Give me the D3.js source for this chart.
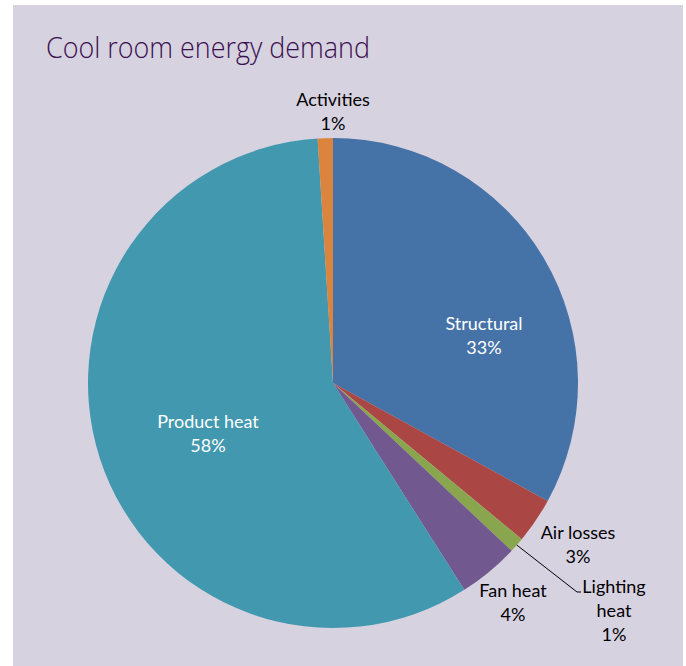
<!DOCTYPE html>
<html>
<head>
<meta charset="utf-8">
<script src="https://cdn.jsdelivr.net/npm/d3@7"></script>
<style>
  html, body { margin: 0; padding: 0; background: #ffffff; }
  svg { display: block; }
</style>
</head>
<body>
<svg id="chart" width="686" height="666"></svg>
<script>
// Cool room energy demand, share by source (%)
const categories = ["Structural", "Air losses", "Lighting heat", "Fan heat", "Product heat", "Activities"];
const shares = [33, 3, 1, 4, 58, 1];
const colors = ["#4572a7", "#aa4643", "#89a54e", "#71588f", "#4198af", "#db843d"];
const labelLines = [["Structural"], ["Air losses"], ["Lighting", "heat"], ["Fan heat"], ["Product heat"], ["Activities"]];

const svg = d3.select("#chart");
const W = 686, H = 666;

// panel background
svg.append("rect")
  .attr("x", 13).attr("y", 5)
  .attr("width", 670).attr("height", H - 5)
  .attr("fill", "#d7d2e0");

svg.append("text")
  .attr("x", 46).attr("y", 58)
  .attr("font-family", "'Open Sans', sans-serif")
  .attr("font-weight", 300)
  .attr("font-size", 29)
  .attr("textLength", 324)
  .attr("lengthAdjust", "spacingAndGlyphs")
  .attr("fill", "#3a1050")
  .text("Cool room energy demand");

const cx = 333, cy = 383, R = 245;

const pie = d3.pie().sort(null).value(d => d.v);
const data = categories.map((c, i) => ({ c, v: shares[i], color: colors[i], lines: labelLines[i] }));
const arcs = pie(data);
const arc = d3.arc().innerRadius(0).outerRadius(R);

const g = svg.append("g").attr("transform", `translate(${cx},${cy})`);
g.selectAll("path.slice")
  .data(arcs)
  .join("path")
  .attr("class", "slice")
  .attr("d", arc)
  .attr("fill", d => d.data.color);

// label anchor (centre x, first baseline) relative to the pie centre
const placement = {
  "Structural":    { dx: 151,  dy: -53,  inside: true },
  "Product heat":  { dx: -125, dy: 45,   inside: true },
  "Air losses":    { dx: 245,  dy: 156,  inside: false },
  "Fan heat":      { dx: 180,  dy: 214,  inside: false },
  "Lighting heat": { dx: 281,  dy: 210,  inside: false },
  "Activities":    { dx: 0,    dy: -277, inside: false }
};

const lineH = 24;
arcs.forEach(a => {
  const p = placement[a.data.c];
  const lines = a.data.lines.concat([a.data.v + "%"]);
  const t = g.append("text")
    .attr("text-anchor", "middle")
    .attr("font-family", "Lato, 'Open Sans', sans-serif")
    .attr("font-size", 18)
    .attr("fill", p.inside ? "#ffffff" : "#000000");
  lines.forEach((s, i) => {
    t.append("tspan").attr("x", p.dx).attr("y", p.dy + i * lineH).text(s);
  });
});

// leader line for the small lighting slice
const light = arcs.find(a => a.data.c === "Lighting heat");
const mid = (light.startAngle + light.endAngle) / 2;
const rim = [Math.sin(mid) * R, -Math.cos(mid) * R];
const lp = placement["Lighting heat"];
const elbow = [lp.dx - 37, lp.dy - 1];
g.append("path")
  .attr("d", d3.line()([rim, elbow, [elbow[0] + 4, elbow[1]]]))
  .attr("fill", "none")
  .attr("stroke", "#000")
  .attr("stroke-width", 1);
</script>
</body>
</html>
